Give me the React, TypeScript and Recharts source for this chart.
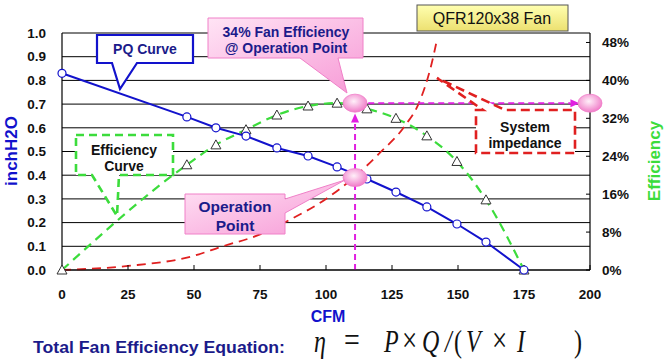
import React from 'react';
import {
  ComposedChart,
  Line,
  XAxis,
  YAxis,
  CartesianGrid,
  ReferenceDot,
  ReferenceLine,
} from 'recharts';

// PQ curve and efficiency share the same measured airflow points
const pqCfm = [0, 47.3, 58.3, 69.7, 81.4, 93.2, 104.2, 115.5, 126.5, 138.2, 149.6, 160.6, 175];
const pqPressure = [0.83, 0.646, 0.6, 0.565, 0.515, 0.481, 0.435, 0.384, 0.329, 0.266, 0.194, 0.118, 0];
const efficiencyPct = [0, 22.2, 26.4, 29.6, 32.7, 34.6, 35.2, 34.0, 32.0, 28.3, 22.9, 14.8, 0];

// system impedance curve
const impCfm = [0, 25, 50, 60, 75, 86, 100, 110, 120, 130, 135, 140, 142];
const impPressure = [0, 0.017, 0.06, 0.097, 0.15, 0.21, 0.3, 0.385, 0.49, 0.61, 0.7, 0.87, 0.97];

const xTicks = [0, 25, 50, 75, 100, 125, 150, 175, 200];
const leftTicks = [0, 0.1, 0.2, 0.3, 0.4, 0.5, 0.6, 0.7, 0.8, 0.9, 1.0];
const rightTicks = [0, 8, 16, 24, 32, 40, 48];

const opPoint = { cfm: 111, pressure: 0.39, efficiency: 35.2 };

const pqData = pqCfm.map((cfm, i) => ({ cfm, pressure: pqPressure[i] }));
const effData = pqCfm.map((cfm, i) => ({ cfm, eff: efficiencyPct[i] }));
const impData = impCfm.map((cfm, i) => ({ cfm, imp: impPressure[i] }));

const FONT = '"Liberation Sans", Arial, sans-serif';
const SERIF = '"Liberation Serif", "Times New Roman", serif';
const NAVY = '#1b1b8a';
const BLUE = '#1212cc';
const GREEN = '#3cdc3c';
const RED = '#e02020';
const MAGENTA = '#e020e0';

const tickStyle = { fontSize: 13.5, fontWeight: 700, fill: '#111', fontFamily: FONT };

// equation pieces: [glyph, x offset, italic, font size]
const equation: [string, number, boolean, number][] = [
  ['η', 0, true, 24],
  ['=', 30, false, 28],
  ['P', 70, true, 24],
  ['×', 88, false, 27],
  ['Q', 108, true, 24],
  ['/', 131, true, 24],
  ['(', 140, false, 24],
  ['V', 152, true, 24],
  ['×', 178, false, 27],
  ['I', 203, true, 24],
  [')', 260, false, 24],
];

function Triangle({ cx, cy }: { cx?: number; cy?: number }) {
  if (cx == null || cy == null) return null;
  return (
    <polygon
      points={`${cx},${cy - 5} ${cx - 5},${cy + 4} ${cx + 5},${cy + 4}`}
      fill="#fff"
      stroke="#333"
      strokeWidth={1}
    />
  );
}

function Bubble({ cx, cy }: { cx?: number; cy?: number }) {
  if (cx == null || cy == null) return null;
  return <ellipse cx={cx} cy={cy} rx={12} ry={9} fill="url(#bubbleGrad)" stroke="#f07cc8" strokeWidth={0.8} />;
}

function ArrowLine(props: any) {
  const { x1, y1, x2, y2 } = props;
  if ([x1, y1, x2, y2].some((v) => v == null)) return null;
  const dx = x2 - x1;
  const dy = y2 - y1;
  const len = Math.sqrt(dx * dx + dy * dy) || 1;
  const ux = dx / len;
  const uy = dy / len;
  const bx = x2 - ux * 9;
  const by = y2 - uy * 9;
  const px = -uy * 4;
  const py = ux * 4;
  return (
    <g>
      <line x1={x1} y1={y1} x2={bx} y2={by} stroke={MAGENTA} strokeWidth={2} strokeDasharray="6 4" />
      <polygon points={`${x2},${y2} ${bx + px},${by + py} ${bx - px},${by - py}`} fill={MAGENTA} />
    </g>
  );
}

function Overlay() {
  const boldText = { fontFamily: FONT, fontWeight: 700, fontSize: 14 } as const;
  return (
    <svg width={665} height={361} style={{ position: 'absolute', left: 0, top: 0, pointerEvents: 'none' }}>
      <defs>
        <linearGradient id="pinkBox" x1="0" y1="0" x2="1" y2="1">
          <stop offset="0%" stopColor="#ffe4f5" />
          <stop offset="100%" stopColor="#f79ad6" />
        </linearGradient>
        <linearGradient id="yellowBox" x1="0" y1="0" x2="0" y2="1">
          <stop offset="0%" stopColor="#ffffb0" />
          <stop offset="100%" stopColor="#ece070" />
        </linearGradient>
      </defs>

      {/* PQ Curve callout */}
      <path d="M97,35 H193 V63 H137 L120,89 L112,63 H97 Z" fill="#fff" stroke={BLUE} strokeWidth={2.2} />
      <text x={145} y={54} textAnchor="middle" fill={NAVY} {...boldText}>PQ Curve</text>

      {/* Efficiency Curve callout */}
      <path d="M76,135 H173 V175 H119 L117,216 L92,175 H76 Z" fill="#fff" stroke={GREEN} strokeWidth={2.6} strokeDasharray="8 5" />
      <text x={124} y={155} textAnchor="middle" fill="#111" {...boldText}>Efficiency</text>
      <text x={124} y={171} textAnchor="middle" fill="#111" {...boldText}>Curve</text>

      {/* 34% Fan Efficiency callout */}
      <path d="M208,18 H363 V58 H338 L347,93 L300,58 H208 Z" fill="url(#pinkBox)" stroke="#f080c8" strokeWidth={1} />
      <text x={286} y={37} textAnchor="middle" fill={NAVY} {...boldText}>34% Fan Efficiency</text>
      <text x={286} y={53} textAnchor="middle" fill={NAVY} {...boldText}>@ Operation Point</text>

      {/* Operation Point callout */}
      <path d="M185,194 H285 V199 L345,180 L285,213 V234 H185 Z" fill="url(#pinkBox)" stroke="#f080c8" strokeWidth={1} />
      <text x={235} y={212} textAnchor="middle" fill={NAVY} {...boldText} fontSize={15.5}>Operation</text>
      <text x={235} y={231} textAnchor="middle" fill={NAVY} {...boldText} fontSize={15.5}>Point</text>

      {/* Fan model label */}
      <rect x={417} y={5} width={151} height={26} fill="url(#yellowBox)" stroke="#555" strokeWidth={1} />
      <text x={492} y={24} textAnchor="middle" fill="#111" fontFamily={FONT} fontSize={16}>QFR120x38 Fan</text>

      {/* System impedance callout */}
      <path d="M476,110 H483 L437,78 L505,110 H575 V153 H476 Z" fill="#fff" stroke={RED} strokeWidth={2.6} strokeDasharray="9 5" />
      <text x={525} y={132} textAnchor="middle" fill="#111" {...boldText}>System</text>
      <text x={525} y={148} textAnchor="middle" fill="#111" {...boldText}>impedance</text>

      {/* axis titles */}
      <text x={17} y={151} transform="rotate(-90 17 151)" textAnchor="middle" fill={BLUE} {...boldText} fontSize={17}>inchH2O</text>
      <text x={660} y={161} transform="rotate(-90 660 161)" textAnchor="middle" fill={GREEN} {...boldText} fontSize={17}>Efficiency</text>
      <text x={328} y={322} textAnchor="middle" fill={BLUE} {...boldText} fontSize={16}>CFM</text>

      {/* equation */}
      <text x={33} y={353} fill={NAVY} {...boldText} fontSize={17} textLength={252} lengthAdjust="spacingAndGlyphs">
        Total Fan Efficiency Equation:
      </text>
      <g transform="translate(314 352) scale(1 1.3)">
        {equation.map(([glyph, dx, italic, size], i) => (
          <text
            key={i}
            x={dx}
            y={0}
            fill="#111"
            fontFamily={SERIF}
            fontStyle={italic ? 'italic' : 'normal'}
            fontSize={size}
          >
            {glyph}
          </text>
        ))}
      </g>
    </svg>
  );
}

export default function App() {
  return (
    <div style={{ position: 'absolute', left: 0, top: 0, width: 665, height: 361, background: '#fff' }}>
      <ComposedChart width={665} height={361} margin={{ top: 33, right: 0, bottom: 61, left: 0 }}>
        <defs>
          <radialGradient id="bubbleGrad" cx="45%" cy="40%" r="60%">
            <stop offset="0%" stopColor="#fff0f9" />
            <stop offset="100%" stopColor="#f07cc8" />
          </radialGradient>
        </defs>
        <CartesianGrid vertical={false} stroke="#000" strokeWidth={1} yAxisId="left" />
        <XAxis
          dataKey="cfm"
          type="number"
          domain={[0, 200]}
          ticks={xTicks}
          allowDuplicatedCategory={false}
          height={30}
          tick={tickStyle}
          tickSize={-5}
          tickMargin={24}
          tickLine={{ stroke: '#000' }}
          axisLine={{ stroke: '#000', strokeWidth: 1.2 }}
        />
        <YAxis
          yAxisId="left"
          domain={[0, 1]}
          ticks={leftTicks}
          width={62}
          tick={tickStyle}
          tickLine={false}
          tickMargin={10}
          tickFormatter={(v: number) => v.toFixed(1)}
          axisLine={{ stroke: '#000', strokeWidth: 1.2 }}
        />
        <YAxis
          yAxisId="right"
          orientation="right"
          domain={[0, 50]}
          ticks={rightTicks}
          width={75}
          tick={tickStyle}
          tickSize={-4}
          tickMargin={16}
          tickLine={{ stroke: '#000' }}
          tickFormatter={(v: number) => `${v}%`}
          axisLine={{ stroke: '#000', strokeWidth: 1.2 }}
        />
        <Line
          data={impData}
          yAxisId="left"
          dataKey="imp"
          type="monotone"
          stroke={RED}
          strokeWidth={1.8}
          strokeDasharray="9 6"
          dot={false}
          isAnimationActive={false}
        />
        <Line
          data={effData}
          yAxisId="right"
          dataKey="eff"
          type="monotone"
          stroke={GREEN}
          strokeWidth={2.2}
          strokeDasharray="9 6"
          dot={<Triangle />}
          isAnimationActive={false}
        />
        <Line
          data={pqData}
          yAxisId="left"
          dataKey="pressure"
          type="linear"
          stroke={BLUE}
          strokeWidth={2}
          dot={{ r: 4, fill: '#fff', stroke: BLUE, strokeWidth: 1.2 }}
          isAnimationActive={false}
        />
        <ReferenceLine
          yAxisId="right"
          segment={[
            { x: opPoint.cfm, y: 0 },
            { x: opPoint.cfm, y: 33 },
          ]}
          shape={ArrowLine}
          ifOverflow="visible"
        />
        <ReferenceLine
          yAxisId="right"
          segment={[
            { x: 116, y: opPoint.efficiency },
            { x: 196, y: opPoint.efficiency },
          ]}
          shape={ArrowLine}
          ifOverflow="visible"
        />
        <ReferenceDot yAxisId="left" x={opPoint.cfm} y={opPoint.pressure} shape={Bubble} ifOverflow="visible" />
        <ReferenceDot yAxisId="right" x={opPoint.cfm} y={opPoint.efficiency} shape={Bubble} ifOverflow="visible" />
        <ReferenceDot yAxisId="right" x={200} y={opPoint.efficiency} shape={Bubble} ifOverflow="visible" />
      </ComposedChart>
      <Overlay />
    </div>
  );
}
